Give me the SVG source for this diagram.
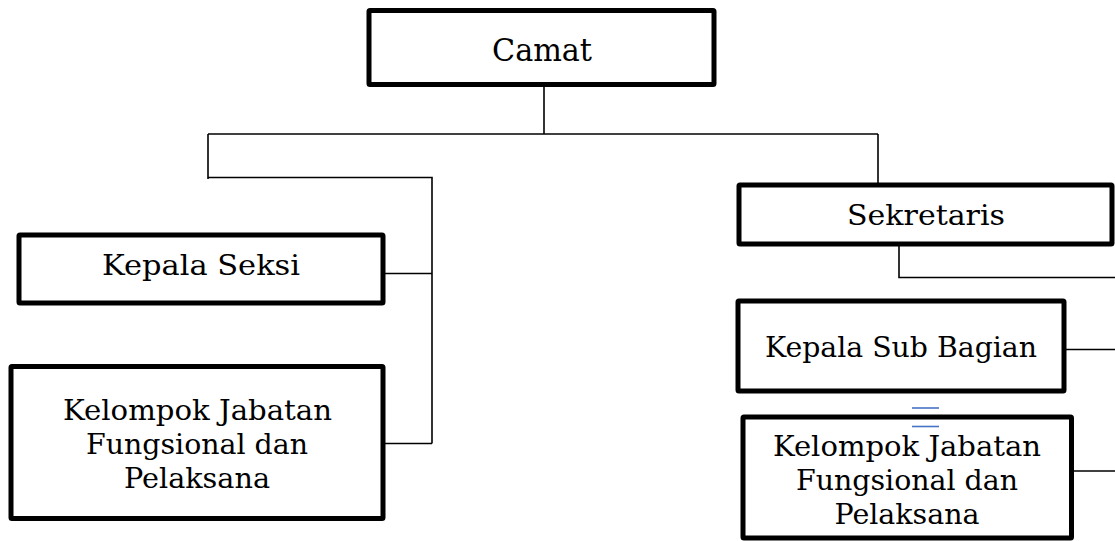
<svg xmlns="http://www.w3.org/2000/svg" width="1115" height="541" viewBox="0 0 1115 541">
  <style>
    .box { fill: #ffffff; stroke: #000000; stroke-width: 5; }
    .lbl { font-family: "DejaVu Serif", "Liberation Serif", serif; font-size: 28.5px; fill: #000000; text-anchor: middle; }
    .big { font-size: 31px; }
    .wire { fill: none; stroke: #000000; stroke-width: 1.6; }
    .mark { stroke: #4472c4; stroke-width: 1.6; }
  </style>
  <rect width="1115" height="541" fill="#ffffff"/>

  <!-- connectors -->
  <g id="connectors">
    <path class="wire" d="M544 86 V134"/>
    <path class="wire" d="M208 134 H878"/>
    <path class="wire" d="M208 134 V179"/>
    <path class="wire" d="M208 177.5 H432 V443.5"/>
    <path class="wire" d="M385 273.5 H432"/>
    <path class="wire" d="M385 443.5 H432"/>
    <path class="wire" d="M878 134 V183"/>
    <path class="wire" d="M899 246 V277.5 H1115"/>
    <path class="wire" d="M1066 349.5 H1115"/>
    <path class="wire" d="M1073 471 H1115"/>
  </g>

  <g id="camat">
    <rect class="box" x="369" y="10.5" width="345" height="74" rx="1"/>
    <text class="lbl big" x="542" y="61" textLength="100" lengthAdjust="spacingAndGlyphs">Camat</text>
  </g>

  <g id="kepala-seksi">
    <rect class="box" x="19" y="235" width="364" height="68" rx="1"/>
    <text class="lbl" x="201" y="275" textLength="198" lengthAdjust="spacingAndGlyphs">Kepala Seksi</text>
  </g>

  <g id="kelompok-kiri">
    <rect class="box" x="11" y="366.5" width="372" height="152" rx="1"/>
    <text class="lbl" x="197.5" y="420" textLength="269" lengthAdjust="spacingAndGlyphs">Kelompok Jabatan</text>
    <text class="lbl" x="197" y="454" textLength="222" lengthAdjust="spacingAndGlyphs">Fungsional dan</text>
    <text class="lbl" x="197" y="488" textLength="146" lengthAdjust="spacingAndGlyphs">Pelaksana</text>
  </g>

  <g id="sekretaris">
    <rect class="box" x="739" y="185" width="373" height="59" rx="1"/>
    <text class="lbl" x="926" y="225" textLength="158" lengthAdjust="spacingAndGlyphs">Sekretaris</text>
  </g>

  <g id="kepala-sub-bagian">
    <rect class="box" x="738" y="301" width="326" height="90" rx="1"/>
    <text class="lbl" x="901" y="357" textLength="272" lengthAdjust="spacingAndGlyphs">Kepala Sub Bagian</text>
  </g>

  <g id="kelompok-kanan">
    <rect class="box" x="743" y="417" width="328.5" height="121" rx="1"/>
    <text class="lbl" x="907" y="456" textLength="268" lengthAdjust="spacingAndGlyphs">Kelompok Jabatan</text>
    <text class="lbl" x="907" y="490" textLength="222" lengthAdjust="spacingAndGlyphs">Fungsional dan</text>
    <text class="lbl" x="907" y="524" textLength="145" lengthAdjust="spacingAndGlyphs">Pelaksana</text>
  </g>

  <!-- small blue double dash between the right-hand boxes -->
  <g id="penanda">
    <line class="mark" x1="912" y1="408" x2="939" y2="408"/>
    <line class="mark" x1="912" y1="426.5" x2="939" y2="426.5"/>
  </g>
</svg>
